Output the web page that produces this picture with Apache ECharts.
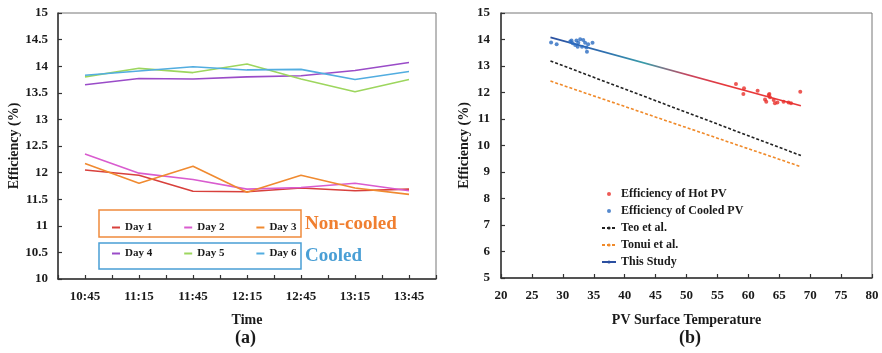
<!DOCTYPE html>
<html>
<head>
<meta charset="utf-8">
<script src="https://cdn.jsdelivr.net/npm/echarts@6/dist/echarts.min.js"></script>
<style>
  html, body { margin: 0; padding: 0; background: #fff; }
  #chart { width: 882px; height: 353px; }
</style>
</head>
<body>
<div id="chart"></div>
<script>
// left panel: efficiency vs time
const times = ['10:45', '11:15', '11:45', '12:15', '12:45', '13:15', '13:45']
const day1 = [12.05, 11.95, 11.65, 11.64, 11.71, 11.66, 11.69]
const day2 = [12.35, 11.99, 11.87, 11.69, 11.72, 11.80, 11.66]
const day3 = [12.17, 11.80, 12.12, 11.63, 11.95, 11.71, 11.59]
const day4 = [13.65, 13.77, 13.76, 13.80, 13.82, 13.92, 14.07]
const day5 = [13.80, 13.96, 13.88, 14.04, 13.76, 13.52, 13.75]
const day6 = [13.83, 13.91, 13.99, 13.93, 13.94, 13.75, 13.90]

// right panel: efficiency vs surface temperature
const cooledTemp = [28.1, 29.0, 31.2, 31.4, 31.6, 32.0, 32.2, 32.4, 32.5, 32.8, 33.1, 33.3, 33.6, 33.8, 33.9, 34.1, 34.8]
const cooledEff  = [13.89, 13.82, 13.92, 13.96, 13.86, 13.79, 13.96, 13.73, 13.88, 14.01, 13.73, 13.98, 13.88, 13.70, 13.54, 13.82, 13.88]
const hotTemp = [58.0, 59.3, 59.2, 61.5, 62.7, 62.9, 63.3, 63.4, 63.5, 64.1, 64.3, 64.7, 65.7, 66.5, 66.9, 68.4]
const hotEff  = [12.32, 12.16, 11.94, 12.07, 11.74, 11.65, 11.91, 11.94, 11.82, 11.72, 11.59, 11.62, 11.65, 11.62, 11.59, 12.03]
const fitTemp = [28, 68.5]
const teoEff = [13.19, 9.62]
const tonuiEff = [12.43, 9.2]
const studyEff = [14.08, 11.5]

const font = 'Liberation Serif'
const ink = '#1a1a1a'

const pairs = (xs, ys) => xs.map((x, i) => [x, ys[i]])

const axisText = { fontFamily: font, fontWeight: 'bold', fontSize: 13, color: ink }
const nameText = { fontFamily: font, fontWeight: 'bold', fontSize: 14, color: ink }
const axisLine = { show: true, lineStyle: { color: '#333', width: 1.5 } }
const tick = { show: true, inside: true, length: 4, lineStyle: { color: '#333', width: 1.2 } }

const dayLine = (name, data, color) => ({
  name, type: 'line', data, xAxisIndex: 0, yAxisIndex: 0,
  symbol: 'none', lineStyle: { color, width: 1.6 }, itemStyle: { color }
})

const chart = echarts.init(document.getElementById('chart'))
chart.setOption({
  backgroundColor: '#fff',
  animation: false,
  grid: [
    { left: 58, right: 446, top: 13, bottom: 74, show: true, borderColor: '#777', borderWidth: 1 },
    { left: 501, right: 10, top: 13, bottom: 75, show: true, borderColor: '#777', borderWidth: 1 }
  ],
  xAxis: [
    {
      gridIndex: 0, type: 'category', data: times, boundaryGap: true,
      axisLine, axisTick: { ...tick, interval: 0 },
      axisLabel: { ...axisText, margin: 11, interval: 0 },
      name: 'Time', nameLocation: 'middle', nameGap: 34, nameTextStyle: nameText
    },
    {
      gridIndex: 0, type: 'category', data: times, boundaryGap: true, position: 'bottom',
      axisLine: { show: false }, axisLabel: { show: false },
      axisTick: { ...tick, alignWithLabel: true, interval: 0 }
    },
    {
      gridIndex: 1, type: 'value', min: 20, max: 80, interval: 5,
      axisLine, axisTick: tick, splitLine: { show: false },
      axisLabel: { ...axisText, margin: 11 },
      name: 'PV Surface Temperature', nameLocation: 'middle', nameGap: 35, nameTextStyle: nameText
    }
  ],
  yAxis: [
    {
      gridIndex: 0, type: 'value', min: 10, max: 15, interval: 0.5,
      axisLine, axisTick: tick, splitLine: { show: false },
      axisLabel: { ...axisText, margin: 10 },
      name: 'Efficiency (%)', nameLocation: 'middle', nameGap: 36, nameTextStyle: nameText
    },
    {
      gridIndex: 1, type: 'value', min: 5, max: 15, interval: 1,
      axisLine, axisTick: tick, splitLine: { show: false },
      axisLabel: { ...axisText, margin: 11 },
      name: 'Efficiency (%)', nameLocation: 'middle', nameGap: 30, nameTextStyle: nameText
    }
  ],
  legend: [
    {
      data: ['Day 1', 'Day 2', 'Day 3'], left: 112, top: 222, padding: 0,
      icon: 'rect', itemWidth: 8, itemHeight: 2, itemGap: 32,
      textStyle: { fontFamily: font, fontWeight: 'bold', fontSize: 11, color: ink }
    },
    {
      data: ['Day 4', 'Day 5', 'Day 6'], left: 112, top: 248, padding: 0,
      icon: 'rect', itemWidth: 8, itemHeight: 2, itemGap: 32,
      textStyle: { fontFamily: font, fontWeight: 'bold', fontSize: 11, color: ink }
    },
    {
      data: [
        { name: 'Efficiency of Hot PV', icon: 'circle' },
        { name: 'Efficiency of Cooled PV', icon: 'circle' },
        'Teo et al.', 'Tonui et al.',
        { name: 'This Study', itemStyle: { color: '#2b4fa0' }, lineStyle: { color: '#2b4fa0' } }
      ],
      orient: 'vertical', left: 601, top: 187, padding: 0,
      itemWidth: 14, itemHeight: 4, itemGap: 3,
      textStyle: { fontFamily: font, fontWeight: 'bold', fontSize: 12, lineHeight: 14, color: ink }
    }
  ],
  graphic: [
    { type: 'rect', shape: { x: 99, y: 210, width: 202, height: 27 },
      style: { fill: 'none', stroke: '#f08a3c', lineWidth: 1.5 } },
    { type: 'rect', shape: { x: 99, y: 243, width: 202, height: 26 },
      style: { fill: 'none', stroke: '#4a9fd5', lineWidth: 1.5 } },
    { type: 'text', left: 305, top: 215,
      style: { text: 'Non-cooled', fill: '#f07f30', font: 'bold 19px "Liberation Serif"' } },
    { type: 'text', left: 305, top: 247,
      style: { text: 'Cooled', fill: '#4a9fd5', font: 'bold 19px "Liberation Serif"' } },
    { type: 'text', left: 235, top: 329,
      style: { text: '(a)', fill: ink, font: 'bold 18px "Liberation Serif"' } },
    { type: 'text', left: 679, top: 329,
      style: { text: '(b)', fill: ink, font: 'bold 18px "Liberation Serif"' } }
  ],
  series: [
    dayLine('Day 1', day1, '#d8403c'),
    dayLine('Day 2', day2, '#d95ccf'),
    dayLine('Day 3', day3, '#f08a30'),
    dayLine('Day 4', day4, '#9a4cc8'),
    dayLine('Day 5', day5, '#9dd65e'),
    dayLine('Day 6', day6, '#52ade0'),
    {
      name: 'Efficiency of Hot PV', type: 'scatter', xAxisIndex: 2, yAxisIndex: 1,
      data: pairs(hotTemp, hotEff), symbolSize: 4, itemStyle: { color: '#e8302a' }, z: 3
    },
    {
      name: 'Efficiency of Cooled PV', type: 'scatter', xAxisIndex: 2, yAxisIndex: 1,
      data: pairs(cooledTemp, cooledEff), symbolSize: 4, itemStyle: { color: '#2a6cc0' }, z: 3
    },
    {
      name: 'Teo et al.', type: 'line', xAxisIndex: 2, yAxisIndex: 1, symbol: 'none',
      data: pairs(fitTemp, teoEff), itemStyle: { color: '#222' },
      lineStyle: { color: '#222', width: 1.6, type: [3, 2] }
    },
    {
      name: 'Tonui et al.', type: 'line', xAxisIndex: 2, yAxisIndex: 1, symbol: 'none',
      data: pairs(fitTemp, tonuiEff), itemStyle: { color: '#f08a2a' },
      lineStyle: { color: '#f08a2a', width: 1.6, type: [3, 2] }
    },
    {
      name: 'This Study', type: 'line', xAxisIndex: 2, yAxisIndex: 1, symbol: 'none',
      data: pairs(fitTemp, studyEff), itemStyle: { color: '#2b4fa0' },
      lineStyle: {
        width: 1.6,
        color: new echarts.graphic.LinearGradient(0, 0, 1, 0, [
          { offset: 0, color: '#2b4fa0' },
          { offset: 0.22, color: '#2f6fb0' },
          { offset: 0.38, color: '#3a9ca8' },
          { offset: 0.55, color: '#c8445e' },
          { offset: 0.7, color: '#e8383a' },
          { offset: 1, color: '#e8383a' }
        ])
      }
    }
  ]
})
</script>
</body>
</html>
